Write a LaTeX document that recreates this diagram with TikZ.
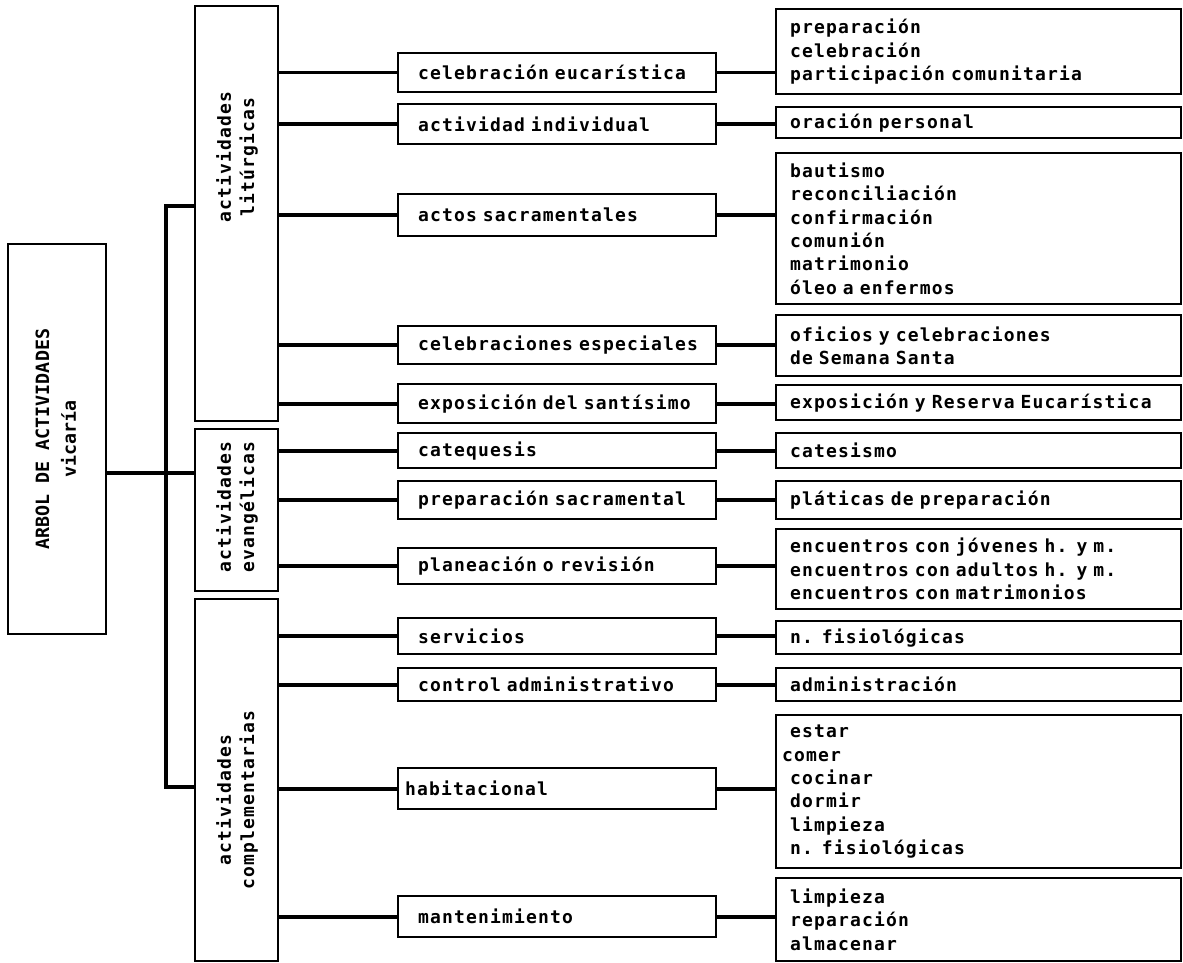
\documentclass[tikz,border=0pt]{standalone}
\usepackage{fontspec}
\newfontfamily\lab{DejaVu Sans Mono}[LetterSpace=6.5]
\newfontfamily\labroot{DejaVu Sans Mono}
\newcommand\labf{\lab\bfseries\fontsize{18}{23.3}\selectfont\fontdimen2\font=11.8pt\fontdimen3\font=0pt\fontdimen4\font=0pt\relax}
\begin{document}
\begin{tikzpicture}[x=1pt,y=-1pt,
  box/.style={draw, line width=2.2pt, rectangle, inner sep=0pt, anchor=north west},
  lvtwo/.style={box, minimum width=318pt, text width=278pt, inner xsep=20pt, align=left, font=\labf},
  lvthree/.style={box, minimum width=405pt, text width=377pt, inner xsep=14pt, align=left, font=\labf},
  cattext/.style={rotate=90, align=center, font=\labf, inner sep=0pt},
  conn/.style={line width=3.8pt}]
\fill[white] (0,0) rectangle (1183,963);
\useasboundingbox (0,0) rectangle (1183,963);

% root
\node[box, minimum width=98pt, minimum height=390pt] (root) at (7,243)
  {\rotatebox{90}{\labroot\bfseries\fontsize{18.3}{27}\selectfont\begin{tabular}{@{}c@{}}ARBOL DE ACTIVIDADES\\vicaría\end{tabular}}};

% categories
\node[box, minimum width=83pt, minimum height=415pt] (cat1) at (194,5) {};
\node[box, minimum width=83pt, minimum height=162pt] (cat2) at (194,428) {};
\node[box, minimum width=83pt, minimum height=362pt] (cat3) at (194,598) {};
\node[cattext] (cat1t) at (237,157) {actividades\\litúrgicas};
\node[cattext] (cat2t) at (237,507) {actividades\\evangélicas};
\node[cattext] (cat3t) at (237,800) {actividades\\complementarias};

% level 2
\node[lvtwo, minimum height=39pt] (a1) at (397,52) {celebración eucarística};
\node[lvtwo, minimum height=40pt] (a2) at (397,103) {actividad individual};
\node[lvtwo, minimum height=42pt] (a3) at (397,193) {actos sacramentales};
\node[lvtwo, minimum height=38pt] (a4) at (397,325) {celebraciones especiales};
\node[lvtwo, minimum height=39pt] (a5) at (397,383) {exposición del santísimo};
\node[lvtwo, minimum height=35pt] (b1) at (397,432) {catequesis};
\node[lvtwo, minimum height=38pt] (b2) at (397,480) {preparación sacramental};
\node[lvtwo, minimum height=36pt] (b3) at (397,547) {planeación o revisión};
\node[lvtwo, minimum height=36pt] (c1) at (397,617) {servicios};
\node[lvtwo, minimum height=33pt] (c2) at (397,667) {control administrativo};
\node[lvtwo, minimum height=41pt] (c3) at (397,767) {\hspace*{-13pt}habitacional};
\node[lvtwo, minimum height=41pt] (c4) at (397,895) {mantenimiento};

% level 3
\node[lvthree, minimum height=85pt] (r1) at (775,8) {preparación\\celebración\\participación comunitaria};
\node[lvthree, minimum height=31pt] (r2) at (775,106) {oración personal};
\node[lvthree, minimum height=151pt] (r3) at (775,152) {bautismo\\reconciliación\\confirmación\\comunión\\matrimonio\\óleo a enfermos};
\node[lvthree, minimum height=61pt] (r4) at (775,314) {oficios y celebraciones\\de Semana Santa};
\node[lvthree, minimum height=35pt] (r5) at (775,384) {exposición y Reserva Eucarística};
\node[lvthree, minimum height=35pt] (r6) at (775,432) {catesismo};
\node[lvthree, minimum height=38pt] (r7) at (775,480) {pláticas de preparación};
\node[lvthree, minimum height=80pt] (r8) at (775,528) {encuentros con jóvenes h. y m.\\encuentros con adultos h. y m.\\encuentros con matrimonios};
\node[lvthree, minimum height=33pt] (r9) at (775,620) {n. fisiológicas};
\node[lvthree, minimum height=33pt] (r10) at (775,667) {administración};
\node[lvthree, minimum height=153pt] (r11) at (775,714) {estar\\\hspace*{-8pt}comer\\cocinar\\dormir\\limpieza\\n. fisiológicas};
\node[lvthree, minimum height=83pt] (r12) at (775,877) {limpieza\\reparación\\almacenar};

% tree connectors
\coordinate (ry) at (0,473);
\coordinate (tt) at (166,206);
\coordinate (tb) at (166,787);
\draw[conn] (root.east |- ry) -- (cat2.west |- ry);
\draw[conn] (cat1.west |- tt) -- (tt) -- (tb) -- (cat3.west |- tb);

\foreach \c/\n in {cat1/a1,cat1/a2,cat1/a3,cat1/a4,cat1/a5,cat2/b1,cat2/b2,cat2/b3,cat3/c1,cat3/c2,cat3/c3,cat3/c4}
  \draw[conn] (\n.west -| \c.east) -- (\n.west);
\foreach \n/\r in {a1/r1,a2/r2,a3/r3,a4/r4,a5/r5,b1/r6,b2/r7,b3/r8,c1/r9,c2/r10,c3/r11,c4/r12}
  \draw[conn] (\n.east) -- (\n.east -| \r.west);
\end{tikzpicture}
\end{document}
